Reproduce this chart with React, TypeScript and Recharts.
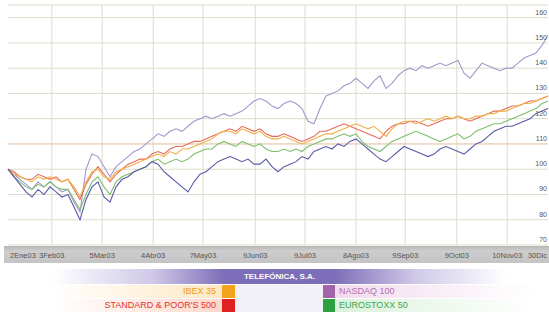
import React from "react";
import { LineChart, Line, XAxis, YAxis, CartesianGrid, ReferenceLine } from "recharts";

// trading-day sample index (every ~3 sessions)
const telefonica = [100,97,94,91,89,92,90,93,91,89,90,85,80,88,93,95,89,87,93,96,97,99,100,101,103,102,99,97,95,93,91,95,98,99,101,103,104,105,104,103,104,102,102,104,101,99,101,102,103,105,104,107,108,109,108,110,109,111,112,110,108,106,104,103,105,107,109,108,107,106,105,106,108,109,108,107,106,108,110,111,113,115,116,117,117,118,119,120,122,123,124];
const nasdaq100 = [100,98,96,94,92,95,93,95,93,91,92,87,83,100,106,105,101,97,101,103,105,107,108,110,112,114,113,115,116,115,117,119,120,121,120,121,122,121,122,123,125,127,128,127,125,124,126,127,126,124,119,118,124,129,130,131,133,134,136,134,132,135,137,132,134,137,139,140,139,141,140,141,142,141,142,143,138,136,139,142,141,140,139,140,140,142,144,145,146,149,153];
const ibex35 = [100,98,97,96,95,97,96,97,96,95,96,93,89,95,99,100,97,96,99,100,101,102,103,104,105,106,105,107,106,108,108,109,110,111,112,114,115,115,114,116,115,114,115,113,112,112,113,112,111,110,111,112,113,114,114,115,116,117,118,117,116,117,115,113,116,118,119,119,118,119,120,119,120,121,120,121,120,120,121,121,122,122,123,123,124,125,126,126,127,128,129];
const sp500 = [100,99,97,96,96,98,97,96,97,95,96,92,88,94,98,101,98,95,98,100,102,103,104,104,106,107,106,108,109,109,110,111,111,112,113,114,115,116,115,117,116,115,116,114,113,113,114,113,112,111,112,113,115,115,116,117,118,117,116,115,114,113,112,115,117,118,118,119,119,118,117,118,119,120,120,121,120,119,120,121,122,123,123,124,125,125,126,127,127,128,129];
const eurostoxx50 = [100,97,95,93,92,94,93,95,93,92,92,88,84,90,95,97,93,90,95,97,98,99,100,101,103,104,102,103,104,103,104,106,107,108,108,110,111,110,109,111,110,109,110,108,107,107,108,107,108,107,109,110,111,112,112,113,114,113,114,111,109,108,107,109,111,112,113,114,115,114,113,112,111,112,113,114,112,113,115,116,117,118,118,119,120,121,122,123,124,126,127];

const xTickValues = [0, 7.3, 15.7, 24.2, 32.5, 41.2, 49.5, 58, 66.2, 74.8, 83.2, 90];
const xTickLabels = ["2Ene03", "3Feb03", "5Mar03", "4Abr03", "7May03", "9Jun03", "9Jul03", "8Ago03", "9Sep03", "9Oct03", "10Nov03", "30Dic"];
const yTicks = [70, 80, 90, 100, 110, 120, 130, 140, 150, 160];

const data = telefonica.map((v, i) => ({
  i,
  tef: v,
  ndx: nasdaq100[i],
  ibex: ibex35[i],
  sp: sp500[i],
  sx5e: eurostoxx50[i],
}));

const FONT = "'Liberation Sans', Arial, sans-serif";

const XTick = (props: any) => {
  const { x, y, payload } = props;
  const idx = xTickValues.indexOf(payload.value);
  const label = xTickLabels[idx] ?? "";
  let anchor: "start" | "middle" | "end" = "middle";
  let dx = 0;
  if (idx === 0) { anchor = "start"; dx = 2; }
  if (idx === xTickValues.length - 1) { anchor = "end"; dx = -1; }
  return (
    <text x={x + dx} y={y + 13} textAnchor={anchor} fontSize={7.5} fill="#555" fontFamily={FONT}>
      {label}
    </text>
  );
};

const YTick = (props: any) => {
  const { y, payload } = props;
  return (
    <text x={547} y={y - 3} textAnchor="end" fontSize={7} fill="#555" fontFamily={FONT}>
      {payload.value}
    </text>
  );
};

export default function App() {
  return (
    <div style={{ position: "absolute", left: 0, top: 0, width: 549, height: 313, background: "#fff", overflow: "hidden", fontFamily: FONT }}>
      {/* x-axis band */}
      <div style={{ position: "absolute", left: 4, top: 246, width: 545, height: 17, background: "linear-gradient(#b8b8b8, #cdcdcd 30%, #c4c4c4)" }} />
      <div style={{ position: "absolute", left: 0, top: 0 }}>
        <LineChart width={549} height={263} data={data} margin={{ top: 5, right: 0, bottom: 0, left: 8 }}>
          <CartesianGrid vertical={false} stroke="#dcdccb" strokeWidth={1} />
          {xTickValues.slice(1, -1).map((v) => (
            <ReferenceLine key={v} x={v} stroke="#dcdccb" strokeWidth={1} />
          ))}
          <ReferenceLine y={110} stroke="#f1cdb3" strokeWidth={1} />
          <XAxis
            dataKey="i"
            type="number"
            domain={[0, 90]}
            ticks={xTickValues}
            interval={0}
            axisLine={false}
            tickLine={false}
            tickSize={0}
            tickMargin={0}
            height={18}
            tick={<XTick />}
          />
          <YAxis
            orientation="right"
            width={1}
            domain={[70, 165]}
            ticks={yTicks}
            interval={0}
            axisLine={false}
            tickLine={false}
            tickSize={0}
            tickMargin={0}
            tick={<YTick />}
          />
          <Line type="linear" dataKey="ndx" stroke="#a596cc" strokeWidth={1.1} dot={false} isAnimationActive={false} />
          <Line type="linear" dataKey="sx5e" stroke="#7cbf6c" strokeWidth={1.1} dot={false} isAnimationActive={false} />
          <Line type="linear" dataKey="sp" stroke="#e86a5a" strokeWidth={1.1} dot={false} isAnimationActive={false} />
          <Line type="linear" dataKey="ibex" stroke="#f2b048" strokeWidth={1.1} dot={false} isAnimationActive={false} />
          <Line type="linear" dataKey="tef" stroke="#5a5aa8" strokeWidth={1.1} dot={false} isAnimationActive={false} />
        </LineChart>
      </div>

      {/* legend */}
      <div style={{ position: "absolute", left: 52, top: 269, width: 455, height: 15, background: "linear-gradient(to right, rgba(150,135,205,0) 0%, rgba(150,135,205,0.45) 22%, #7c6eb8 38%, #7c6eb8 62%, rgba(150,135,205,0.45) 80%, rgba(150,135,205,0) 100%)", color: "#fff", fontSize: 8, fontWeight: "bold", textAlign: "center", lineHeight: "15px" }}>
        TELEFÓNICA, S.A.
      </div>
      <div style={{ position: "absolute", left: 235, top: 285, width: 88, height: 27, background: "#f1f1f7" }} />
      {/* row 2 */}
      <div style={{ position: "absolute", left: 52, top: 285, width: 170, height: 13, background: "linear-gradient(to right, rgba(253,236,200,0), #fde8c2)", color: "#f0a020", fontSize: 9, textAlign: "right", lineHeight: "13px", paddingRight: 6, boxSizing: "border-box" }}>
        IBEX 35
      </div>
      <div style={{ position: "absolute", left: 222, top: 285, width: 13, height: 13, background: "#f3a21e" }} />
      <div style={{ position: "absolute", left: 323, top: 285, width: 12, height: 13, background: "#a066a8" }} />
      <div style={{ position: "absolute", left: 335, top: 285, width: 200, height: 13, background: "linear-gradient(to right, #f2dcee, rgba(242,220,238,0))", color: "#b070b0", fontSize: 9, lineHeight: "13px", paddingLeft: 4, boxSizing: "border-box" }}>
        NASDAQ 100
      </div>
      {/* row 3 */}
      <div style={{ position: "absolute", left: 52, top: 299, width: 170, height: 13, background: "linear-gradient(to right, rgba(252,222,212,0), #fcd8cc)", color: "#e83030", fontSize: 9, textAlign: "right", lineHeight: "13px", paddingRight: 6, boxSizing: "border-box" }}>
        STANDARD &amp; POOR'S 500
      </div>
      <div style={{ position: "absolute", left: 222, top: 299, width: 13, height: 13, background: "#e02020" }} />
      <div style={{ position: "absolute", left: 323, top: 299, width: 12, height: 13, background: "#2fa040" }} />
      <div style={{ position: "absolute", left: 335, top: 299, width: 200, height: 13, background: "linear-gradient(to right, #dcf1dc, rgba(220,241,220,0))", color: "#40a848", fontSize: 9, lineHeight: "13px", paddingLeft: 4, boxSizing: "border-box" }}>
        EUROSTOXX 50
      </div>
    </div>
  );
}
